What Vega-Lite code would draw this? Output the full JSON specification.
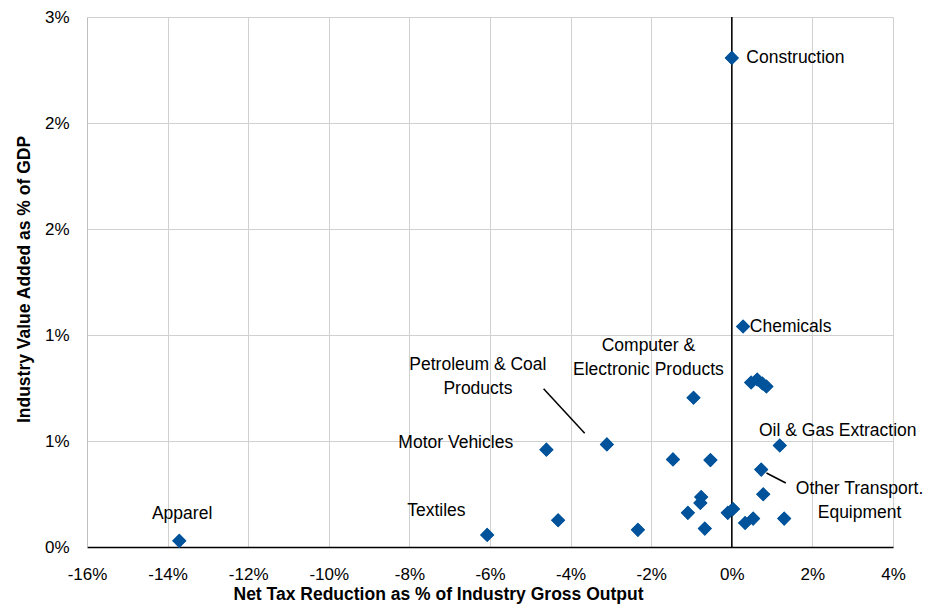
{
  "$schema": "https://vega.github.io/schema/vega-lite/v6.json",
  "width": 806,
  "height": 530,
  "autosize": {"type": "none"},
  "padding": {"left": 87, "top": 17, "right": 42, "bottom": 60},
  "background": "white",
  "config": {"view": {"stroke": null}, "font": "Liberation Sans"},
  "datasets": {
    "points": [
      {"industry": "Construction", "tax": 0.0, "va": 2.307},
      {"industry": "Chemicals", "tax": 0.28, "va": 1.04},
      {"industry": "Computer & Electronic Products", "tax": -0.95, "va": 0.704},
      {"industry": "P4", "tax": 0.48, "va": 0.776},
      {"industry": "P5", "tax": 0.63, "va": 0.79},
      {"industry": "P6", "tax": 0.76, "va": 0.771},
      {"industry": "P7", "tax": 0.86, "va": 0.757},
      {"industry": "Oil & Gas Extraction", "tax": 1.19, "va": 0.479},
      {"industry": "P9", "tax": -1.46, "va": 0.413},
      {"industry": "P10", "tax": -0.53, "va": 0.41},
      {"industry": "Other Transport. Equipment", "tax": 0.73, "va": 0.365},
      {"industry": "P12", "tax": 0.78, "va": 0.249},
      {"industry": "P13", "tax": -0.76, "va": 0.236},
      {"industry": "P14", "tax": -0.78, "va": 0.208},
      {"industry": "P15", "tax": -1.09, "va": 0.161},
      {"industry": "P16", "tax": -0.1, "va": 0.161},
      {"industry": "P17", "tax": 0.03, "va": 0.179},
      {"industry": "P18", "tax": 1.3, "va": 0.134},
      {"industry": "P19", "tax": 0.33, "va": 0.113},
      {"industry": "P20", "tax": 0.53, "va": 0.134},
      {"industry": "P21", "tax": -0.67, "va": 0.087},
      {"industry": "P22", "tax": -2.33, "va": 0.081},
      {"industry": "Petroleum & Coal Products", "tax": -3.1, "va": 0.484},
      {"industry": "Motor Vehicles", "tax": -4.6, "va": 0.459},
      {"industry": "P25", "tax": -4.31, "va": 0.126},
      {"industry": "Textiles", "tax": -6.07, "va": 0.057},
      {"industry": "Apparel", "tax": -13.71, "va": 0.029}
    ],
    "labels": [
      {"label": ["Construction"], "lx": 1.58, "ly": 2.307},
      {"label": ["Chemicals"], "lx": 1.46, "ly": 1.04},
      {"label": ["Computer &", "Electronic Products"], "lx": -2.07, "ly": 0.948},
      {"label": ["Petroleum & Coal", "Products"], "lx": -6.3, "ly": 0.86},
      {"label": ["Motor Vehicles"], "lx": -6.85, "ly": 0.49},
      {"label": ["Oil & Gas Extraction"], "lx": 2.63, "ly": 0.547},
      {"label": ["Other Transport.", "Equipment"], "lx": 3.17, "ly": 0.272},
      {"label": ["Textiles"], "lx": -7.33, "ly": 0.17},
      {"label": ["Apparel"], "lx": -13.64, "ly": 0.154}
    ],
    "leaders": [
      {"x1": -4.67, "y1": 0.746, "x2": -3.65, "y2": 0.537},
      {"x1": 0.86, "y1": 0.349, "x2": 1.34, "y2": 0.302}
    ]
  },
  "layer": [
    {
      "data": {"name": "points"},
      "mark": {"type": "point", "shape": "diamond", "filled": true, "size": 200, "color": "#00539b", "opacity": 1},
      "encoding": {
        "x": {
          "field": "tax", "type": "quantitative",
          "scale": {"domain": [-16, 4], "nice": false, "zero": false},
          "axis": {
            "values": [-16, -14, -12, -10, -8, -6, -4, -2, 0, 2, 4],
            "labelExpr": "datum.value + '%'",
            "labelFontSize": 17, "labelColor": "#000000", "labelPadding": 19,
            "labelFlush": false,
            "ticks": false,
            "domainColor": "#000000", "domainWidth": 1.5,
            "gridColor": "#d0d0d0", "gridWidth": 1,
            "title": "Net Tax Reduction as % of Industry Gross Output",
            "titleFontSize": 17.5, "titleFontWeight": "bold", "titleColor": "#000000",
            "titleX": 351, "titleY": 47, "titleBaseline": "middle", "titleAnchor": null
          }
        },
        "y": {
          "field": "va", "type": "quantitative",
          "scale": {"domain": [0, 2.5], "nice": false},
          "axis": {
            "values": [0, 0.5, 1, 1.5, 2, 2.5],
            "labelExpr": "round(datum.value) + '%'",
            "labelFontSize": 17, "labelColor": "#000000", "labelPadding": 18,
            "labelFlush": false,
            "ticks": false,
            "domainColor": "#bfbfbf", "domainWidth": 1,
            "gridColor": "#d0d0d0", "gridWidth": 1,
            "title": "Industry Value Added as % of GDP",
            "titleFontSize": 17.5, "titleFontWeight": "bold", "titleColor": "#000000",
            "titleX": -63, "titleY": 262, "titleBaseline": "middle", "titleAnchor": null
          }
        }
      }
    },
    {
      "data": {"values": [{}]},
      "mark": {"type": "rule", "color": "#000000", "strokeWidth": 1.5},
      "encoding": {"x": {"datum": 0, "type": "quantitative"}}
    },
    {
      "data": {"name": "points"},
      "mark": {"type": "point", "shape": "diamond", "filled": true, "size": 200, "color": "#00539b", "opacity": 1},
      "encoding": {
        "x": {"field": "tax", "type": "quantitative"},
        "y": {"field": "va", "type": "quantitative"}
      }
    },
    {
      "data": {"name": "leaders"},
      "mark": {"type": "rule", "color": "#000000", "strokeWidth": 1.5},
      "encoding": {
        "x": {"field": "x1", "type": "quantitative"},
        "y": {"field": "y1", "type": "quantitative"},
        "x2": {"field": "x2"},
        "y2": {"field": "y2"}
      }
    },
    {
      "data": {"name": "labels"},
      "mark": {"type": "text", "align": "center", "baseline": "middle", "fontSize": 17.5, "lineHeight": 24, "color": "#000000"},
      "encoding": {
        "x": {"field": "lx", "type": "quantitative"},
        "y": {"field": "ly", "type": "quantitative"},
        "text": {"field": "label"}
      }
    }
  ]
}
